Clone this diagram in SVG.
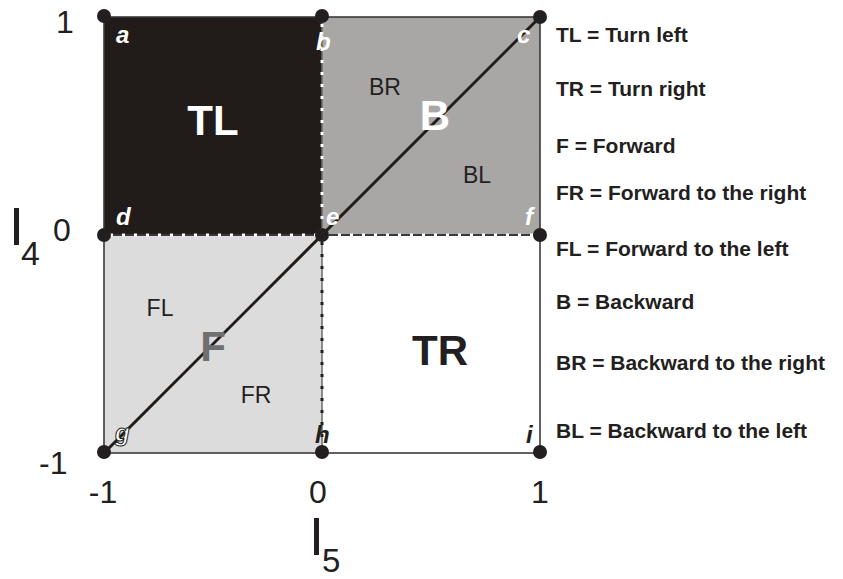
<svg xmlns="http://www.w3.org/2000/svg" width="843" height="579" viewBox="0 0 843 579">
  <style>
    text { font-family: "Liberation Sans", Arial, sans-serif; }
    .corner { font-size: 24px; font-weight: bold; font-style: italic; }
    .big { font-size: 42px; font-weight: bold; text-anchor: middle; }
    .sub { font-size: 23px; fill: #231f20; }
    .axis { font-size: 32px; fill: #231f20; }
    .legend { font-size: 21px; font-weight: bold; fill: #231f20; }
    .frame { stroke: #3a3a3a; stroke-width: 1.6; fill: none; }
    .dot { fill: #231f20; }
  </style>

  <!-- quadrant regions -->
  <g id="region-TL">
    <rect x="104" y="17" width="218" height="218" fill="#211c19"/>
    <text class="big" x="213" y="135" fill="#ffffff">TL</text>
  </g>
  <g id="region-B">
    <rect x="322" y="17" width="218" height="218" fill="#a8a7a6"/>
    <text class="sub" x="385" y="95" text-anchor="middle">BR</text>
    <text class="sub" x="477" y="183" text-anchor="middle">BL</text>
  </g>
  <g id="region-F">
    <rect x="104" y="235" width="218" height="218" fill="#dcdcdc"/>
    <text class="sub" x="160" y="316" text-anchor="middle">FL</text>
    <text class="sub" x="256" y="403" text-anchor="middle">FR</text>
  </g>
  <g id="region-TR">
    <rect x="322" y="235" width="218" height="218" fill="#ffffff"/>
    <text class="big" x="440" y="365" fill="#231f20">TR</text>
  </g>

  <!-- connectors: frame, inner dotted boundaries, diagonal -->
  <g id="connectors">
    <rect class="frame" x="104" y="17" width="436" height="436"/>
    <!-- b–e -->
    <line x1="322" y1="17" x2="322" y2="235" stroke="#6b6b6b" stroke-width="1.5"/>
    <line x1="322" y1="24" x2="322" y2="235" stroke="#ffffff" stroke-width="3" stroke-dasharray="3 9"/>
    <!-- d–e–f -->
    <line x1="104" y1="235" x2="540" y2="235" stroke="#3a3a3a" stroke-width="1.8"/>
    <line x1="110" y1="235" x2="540" y2="235" stroke="#ffffff" stroke-width="3" stroke-dasharray="3 9"/>
    <!-- e–h -->
    <line x1="322" y1="235" x2="322" y2="453" stroke="#6b6b6b" stroke-width="1.5"/>
    <line x1="322" y1="242" x2="322" y2="453" stroke="#231f20" stroke-width="3" stroke-dasharray="3 9"/>
    <!-- diagonal g–c -->
    <line x1="104" y1="453" x2="540" y2="17" stroke="#211c19" stroke-width="3"/>
  </g>

  <!-- region letters drawn over the diagonal -->
  <text class="big" x="435" y="130" fill="#ffffff">B</text>
  <text class="big" x="213" y="361" fill="#6f6f6f">F</text>

  <!-- grid points -->
  <g id="point-a"><circle class="dot" cx="104" cy="16" r="7"/><text class="corner" x="116" y="43" fill="#ffffff">a</text></g>
  <g id="point-b"><circle class="dot" cx="322" cy="16" r="7"/><text class="corner" x="316" y="50" fill="#ffffff">b</text></g>
  <g id="point-c"><circle class="dot" cx="540" cy="17" r="7"/><text class="corner" x="517" y="43" fill="#ffffff">c</text></g>
  <g id="point-d"><circle class="dot" cx="104" cy="235" r="7"/><text class="corner" x="116" y="225" fill="#ffffff">d</text></g>
  <g id="point-e"><circle class="dot" cx="322" cy="235" r="7"/><text class="corner" x="326" y="225" fill="#ffffff">e</text></g>
  <g id="point-f"><circle class="dot" cx="540" cy="235" r="7"/><text class="corner" x="525" y="225" fill="#ffffff">f</text></g>
  <g id="point-g"><circle class="dot" cx="104" cy="452" r="7"/><text class="corner" x="115" y="441" fill="#ffffff" stroke="#231f20" stroke-width="1">g</text></g>
  <g id="point-h"><circle class="dot" cx="322" cy="452" r="7"/><text class="corner" x="315" y="443" fill="#231f20">h</text></g>
  <g id="point-i"><circle class="dot" cx="540" cy="452" r="7"/><text class="corner" x="526" y="443" fill="#231f20">i</text></g>

  <!-- axes -->
  <g id="axis-labels">
    <text class="axis" x="56" y="33">1</text>
    <text class="axis" x="53" y="241">0</text>
    <text class="axis" x="39" y="474">-1</text>
    <text class="axis" x="103" y="503" text-anchor="middle">-1</text>
    <text class="axis" x="318" y="503" text-anchor="middle">0</text>
    <text class="axis" x="540" y="503" text-anchor="middle">1</text>
    <text x="9" y="245" font-size="54" fill="#231f20">I</text>
    <text x="21" y="265" font-size="34" fill="#231f20">4</text>
    <text x="309" y="555" font-size="54" fill="#231f20">I</text>
    <text x="322" y="572" font-size="33" fill="#231f20">5</text>
  </g>

  <!-- legend -->
  <g id="legend">
    <text class="legend" x="556" y="42">TL = Turn left</text>
    <text class="legend" x="556" y="96">TR = Turn right</text>
    <text class="legend" x="556" y="153">F = Forward</text>
    <text class="legend" x="556" y="200">FR = Forward to the right</text>
    <text class="legend" x="556" y="256">FL = Forward to the left</text>
    <text class="legend" x="556" y="309">B = Backward</text>
    <text class="legend" x="556" y="370">BR = Backward to the right</text>
    <text class="legend" x="556" y="438">BL = Backward to the left</text>
  </g>
</svg>
